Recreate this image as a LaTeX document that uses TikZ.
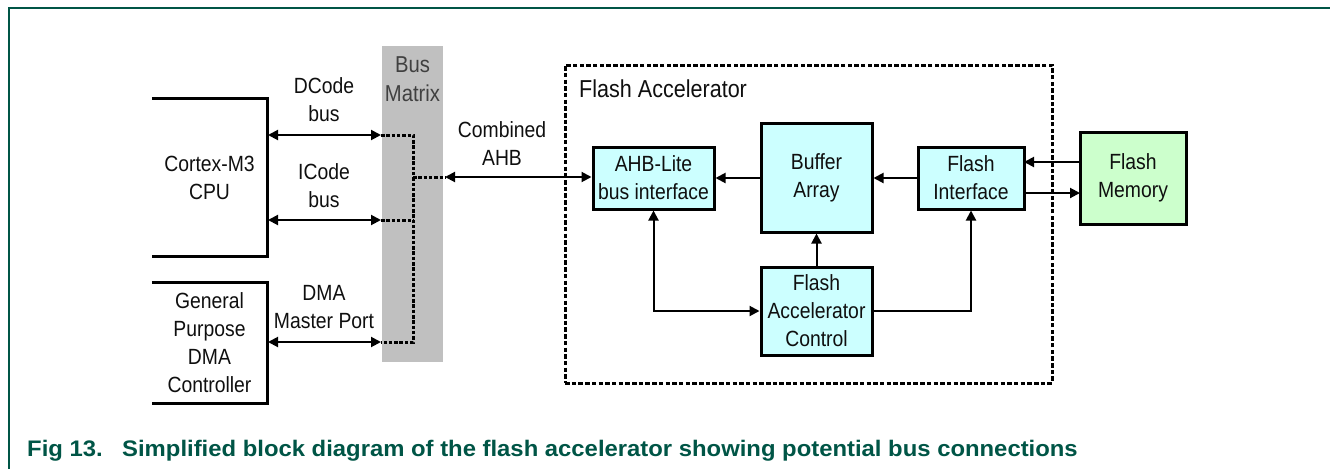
\documentclass[tikz,border=0pt]{standalone}
\usepackage{fontspec}
\setmainfont[FakeStretch=0.88]{Liberation Sans}
\newfontfamily\capfont[FakeStretch=1.06]{Liberation Sans}
\usetikzlibrary{arrows.meta}
\definecolor{frame}{RGB}{0,85,70}
\definecolor{boxcyan}{RGB}{204,255,255}
\definecolor{boxgreen}{RGB}{204,255,204}
\definecolor{busgray}{RGB}{192,192,192}
\definecolor{bustext}{RGB}{64,64,64}
\definecolor{ink}{RGB}{15,15,15}
\tikzset{
  txt/.style={font=\fontsize{22}{28}\selectfont, align=center, inner sep=0pt, text=ink},
  cyanbox/.style={draw=black, line width=3pt, fill=boxcyan, inner sep=0pt, font=\fontsize{22}{28}\selectfont, align=center, text=ink},
  greenbox/.style={cyanbox, fill=boxgreen},
  arr/.style={line width=2pt, -{Triangle[length=10pt,width=10pt]}},
  darr/.style={line width=2pt, {Triangle[length=10pt,width=10pt]}-{Triangle[length=10pt,width=10pt]}},
  dots/.style={line width=3pt, dash pattern=on 3.5pt off 1.8pt},
  openbox/.style={line width=3.2pt},
}
\begin{document}
\begin{tikzpicture}[x=1pt,y=-1pt]
\useasboundingbox (0,0) rectangle (1330,469);
% frame
\draw[frame, line width=1.6pt] (1330,8) -- (9,8) -- (9,469);

% CPU (open box)
\node[txt, minimum width=115pt, minimum height=157pt] (cpu) at (209.5,177.5) {Cortex-M3\\CPU};
\draw[openbox] (cpu.north west) -- (cpu.north east) -- (cpu.south east) -- (cpu.south west);
% DMA controller (open box)
\node[txt, minimum width=115pt, minimum height=120pt] (dma) at (209.5,343) {General\\Purpose\\DMA\\Controller};
\draw[openbox] (dma.north west) -- (dma.north east) -- (dma.south east) -- (dma.south west);

% Bus matrix
\node[fill=busgray, minimum width=61pt, minimum height=316pt, inner sep=0pt] (bm) at (412.5,204) {};
\node[txt, text=bustext, font=\fontsize{23}{29}\selectfont] (bmlabel) at (412.5,79.5) {Bus\\Matrix};

% connection points
\coordinate (dcL) at (268,135);
\coordinate (dcR) at (381,135);
\coordinate (icL) at (268,220);
\coordinate (icR) at (381,220);
\coordinate (dmL) at (268,342);
\coordinate (dmR) at (381,342);
\coordinate (jd) at (413,135);
\coordinate (ji) at (413,220);
\coordinate (jm) at (413,342);
\coordinate (jc) at (413,177);
\coordinate (ahbL) at (445,177);

\draw[darr] (dcL) -- (dcR);
\draw[darr] (icL) -- (icR);
\draw[darr] (dmL) -- (dmR);
\draw[dots] (dcR) -- (jd) -- (jm) -- (dmR);
\draw[dots] (icR) -- (ji);
\draw[dots] (jc) -- (ahbL);

\node[txt] (dclab) at (324,100) {DCode\\bus};
\node[txt] (iclab) at (324,186) {ICode\\bus};
\node[txt] (dmlab) at (324,307.5) {DMA\\Master Port};
\node[txt] (cblab) at (502,144) {Combined\\AHB};

% Flash accelerator
\node[draw=black, line width=3pt, dash pattern=on 4.5pt off 2.2pt, minimum width=487pt, minimum height=318pt, inner sep=0pt] (fa) at (808.5,224) {};
\node[txt, anchor=west, font=\fontsize{24.5}{30}\selectfont] (falab) at (579,89) {Flash Accelerator};

\node[cyanbox, minimum width=121pt, minimum height=62pt] (ahb) at (653.5,178) {AHB-Lite\\bus interface};
\node[cyanbox, minimum width=111pt, minimum height=109pt] (buf) at (816.5,177.5) {Buffer\\Array};
\node[cyanbox, minimum width=106pt, minimum height=62pt] (fif) at (971,178) {Flash\\Interface};
\node[cyanbox, minimum width=111pt, minimum height=88pt] (ctl) at (816.5,311) {Flash\\Accelerator\\Control};
\node[greenbox, minimum width=106pt, minimum height=92pt] (mem) at (1133,178) {Flash\\Memory};

\coordinate (memIn) at (1080,193);
\coordinate (memOut) at (1080,162);
\coordinate (fifOut) at (1024,193);
\coordinate (fifIn) at (1024,162);

\draw[darr] (ahbL) -- (ahb.west |- ahbL);
\draw[arr] (buf.west |- ahb.east) -- (ahb.east);
\draw[arr] (fif.west) -- (buf.east |- fif.west);
\draw[arr] (ctl.north) -- (buf.south);
\draw[darr] (ahb.south) |- (ctl.west);
\draw[arr] (ctl.east) -| (fif.south);
\draw[arr] (memOut) -- (fifIn);
\draw[arr] (fifOut) -- (memIn);

% caption
\node[anchor=base west, inner sep=0pt, text=frame, font=\capfont\bfseries\fontsize{22.5}{27}\selectfont] (cap) at (27,456.5) {\makebox[95pt][l]{Fig 13.}Simplified block diagram of the flash accelerator showing potential bus connections};
\end{tikzpicture}
\end{document}
